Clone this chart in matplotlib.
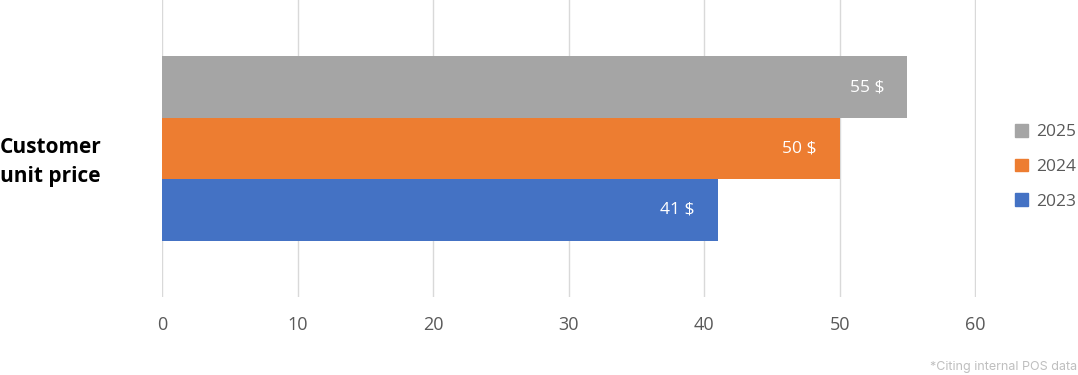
import numpy as np
import matplotlib.pyplot as plt
from matplotlib.patches import Patch

plt.rcParams['font.family'] = ['Open Sans', 'DejaVu Sans']

category = 'Customer\nunit price'
years = ['2023', '2024', '2025']
prices = [41, 50, 55]
colors = ['#4472C4', '#ED7D31', '#A5A5A5']
xticks = [0, 10, 20, 30, 40, 50, 60]

fig = plt.figure(figsize=(10.78, 3.75), dpi=100)
ax = fig.add_axes([0.1503, 0.208, 0.7555, 0.792])

bar_h = 0.207
offsets = [-bar_h, 0, bar_h]
for yr, val, col, off in zip(years, prices, colors, offsets):
    ax.barh(off, val, height=bar_h, color=col, zorder=3, label=yr)
    ax.text(val - 1.7, off, f'{val} $', ha='right', va='center',
            color='white', fontsize=12.5, zorder=4)

ax.set_ylim(-0.5, 0.5)
ax.set_xlim(0, 60.1)
ax.set_xticks(xticks)
ax.set_xticklabels([str(t) for t in xticks], fontsize=13, color='#595959')
ax.tick_params(axis='x', length=0, pad=14)
ax.set_yticks([])
ax.grid(axis='x', color='#d9d9d9', linewidth=1, zorder=0)
for s in ax.spines.values():
    s.set_visible(False)

fig.text(0.0, 0.568, category, ha='left', va='center', fontsize=15,
         fontweight='bold', color='black', linespacing=1.55)

handles = [Patch(color=c, label=y) for y, c in zip(years[::-1], colors[::-1])]
fig.legend(handles=handles, loc='center right', bbox_to_anchor=(1.0, 0.555),
           borderaxespad=0, borderpad=0.1,
           frameon=False, fontsize=12.5, handlelength=0.75, handleheight=0.75,
           handletextpad=0.45, labelspacing=1.05, labelcolor='#595959')

fig.text(0.999, 0.006, '*Citing internal POS data', ha='right', va='bottom',
         fontsize=9, color='#bfbfbf', family=['Inter', 'DejaVu Sans'])

fig.savefig('out.png', dpi=100)
